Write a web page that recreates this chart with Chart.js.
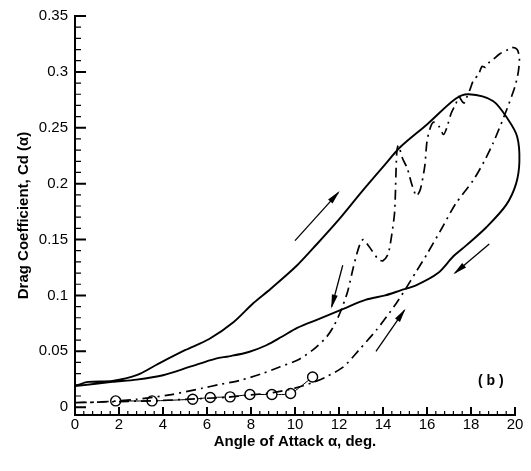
<!DOCTYPE html>
<html lang="en">
<head>
  <meta charset="UTF-8" />
  <title>Drag Coefficient vs Angle of Attack</title>
  <script src="https://cdn.jsdelivr.net/npm/chart.js"></script>
  <style>
    html, body { margin: 0; padding: 0; background: #fff; }
    #wrap { width: 531px; height: 471px; }
  </style>
</head>
<body>
  <div id="wrap"><canvas id="cdChart" width="531" height="471"></canvas></div>

  <script>
    // computed loop, solid line (up on the upper branch, back on the lower one)
    const solidX = [0, 0.6, 1.7, 2.8, 3.8, 5.0, 6.1, 7.2, 8.1, 8.9, 10.1, 11.0, 12.0, 13.0, 14.0, 14.8, 16.0, 17.3, 17.9, 19.0, 19.7, 20.1, 20.2,
                    20.05, 19.6, 18.7, 17.8, 17.2, 16.5, 15.5, 14.8, 14.1, 13.2, 12.2, 11.1, 10.1, 9.4, 8.7, 7.9, 7.0, 6.4, 5.2, 4.0, 2.8, 1.7, 0];
    const solidY = [0.019, 0.0226, 0.0235, 0.0286, 0.039, 0.051, 0.061, 0.076, 0.093, 0.106, 0.127, 0.146, 0.168, 0.192, 0.215, 0.233, 0.253, 0.276, 0.280, 0.274, 0.257, 0.242, 0.22,
                    0.2, 0.181, 0.161, 0.145, 0.135, 0.12, 0.109, 0.1045, 0.100, 0.096, 0.088, 0.079, 0.071, 0.063, 0.0554, 0.0494, 0.0455, 0.0435, 0.036, 0.0286, 0.0247, 0.0226, 0.0188];

    // second computed loop, dash-dot (upstroke low and right, downstroke with the wiggles)
    const dashX = [0, 1, 2, 3, 4, 5, 6, 7, 8, 9, 10, 10.8, 11.4, 12.2, 12.9, 13.7, 14.5, 15.0, 15.5, 16.0, 16.7, 17.3, 18.1, 18.6, 19.0, 19.6, 20.0, 20.15, 20.2, 20.1, 19.85,
                   19.6, 19.3, 19.0, 18.8, 18.65, 18.5, 18.35, 18.1, 17.95, 17.8, 17.68, 17.55, 17.45, 17.3, 17.1, 16.9, 16.75, 16.55, 16.3, 16.15, 16.0, 15.9, 15.7, 15.52,
                   15.3, 15.1, 14.9, 14.7, 14.62, 14.53, 14.38, 14.23, 14.0, 13.8, 13.5, 13.1, 12.9, 12.65, 12.4, 12.1, 11.75, 11.4, 10.8, 10.1, 9.3, 8.5, 7.5, 6.5, 5.8, 4.3, 2.8, 1.2, 0];
    const dashY = [0.004, 0.0045, 0.005, 0.0055, 0.006, 0.007, 0.008, 0.009, 0.011, 0.013, 0.017, 0.022, 0.027, 0.036, 0.051, 0.069, 0.09, 0.105, 0.121, 0.137, 0.161, 0.182, 0.203, 0.22, 0.236, 0.265, 0.287, 0.30, 0.312, 0.32, 0.322,
                   0.319, 0.316, 0.311, 0.308, 0.304, 0.305, 0.298, 0.292, 0.284, 0.277, 0.272, 0.275, 0.278, 0.271, 0.263, 0.25, 0.244, 0.251, 0.255, 0.25, 0.238, 0.216, 0.195, 0.189,
                   0.2, 0.214, 0.222, 0.234, 0.226, 0.175, 0.152, 0.137, 0.131, 0.132, 0.14, 0.15, 0.143, 0.125, 0.104, 0.087, 0.072, 0.062, 0.051, 0.042, 0.036, 0.030, 0.024, 0.02, 0.017, 0.011, 0.007, 0.0047, 0.004];

    // experiment (open circles)
    const expX = [1.85, 3.5, 5.35, 6.15, 7.05, 7.95, 8.95, 9.8, 10.8];
    const expY = [0.0056, 0.0056, 0.0071, 0.0087, 0.0092, 0.0113, 0.0113, 0.0122, 0.027];

    // direction arrows: tail (x0,y0) -> head (x1,y1)
    const arrowX0 = [10.0, 18.83, 12.17, 13.68];
    const arrowY0 = [0.149, 0.146, 0.127, 0.050];
    const arrowX1 = [11.97, 17.27, 11.67, 14.97];
    const arrowY1 = [0.192, 0.120, 0.090, 0.0866];

    const xTicks = [0, 2, 4, 6, 8, 10, 12, 14, 16, 18, 20];
    const yTicks = [0, 0.05, 0.1, 0.15, 0.2, 0.25, 0.3, 0.35];

    const FONT = "'Liberation Sans', Arial, Helvetica, sans-serif";

    const toPts = (xs, ys) => xs.map((x, i) => ({ x: x, y: ys[i] }));

    // tick marks drawn inside the axes, plus arrows and the panel tag
    const extras = {
      id: 'extras',
      afterDraw(chart) {
        const ctx = chart.ctx;
        const xs = chart.scales.x, ys = chart.scales.y;
        const left = chart.chartArea.left, bottom = chart.chartArea.bottom;
        ctx.save();
        ctx.strokeStyle = '#000';
        ctx.fillStyle = '#000';

        // minor ticks
        ctx.lineWidth = 1.2;
        ctx.beginPath();
        for (let i = 0; i <= 35; i++) {
          if (i % 5 === 0) continue;
          const py = ys.getPixelForValue(i / 100);
          ctx.moveTo(left, py); ctx.lineTo(left + 6, py);
        }
        for (let i = 0; i <= 50; i++) {
          if (i % 5 === 0) continue;
          const px = xs.getPixelForValue(i * 0.4);
          ctx.moveTo(px, bottom); ctx.lineTo(px, bottom - 4);
        }
        ctx.stroke();

        // major ticks
        ctx.lineWidth = 2;
        ctx.beginPath();
        yTicks.forEach(v => {
          const py = ys.getPixelForValue(v);
          ctx.moveTo(left, py); ctx.lineTo(left + 11, py);
        });
        xTicks.forEach(v => {
          const px = xs.getPixelForValue(v);
          ctx.moveTo(px, bottom); ctx.lineTo(px, bottom - 8);
        });
        ctx.stroke();

        // arrows
        ctx.lineWidth = 1.3;
        for (let i = 0; i < arrowX0.length; i++) {
          const x0 = xs.getPixelForValue(arrowX0[i]), y0 = ys.getPixelForValue(arrowY0[i]);
          const x1 = xs.getPixelForValue(arrowX1[i]), y1 = ys.getPixelForValue(arrowY1[i]);
          const a = Math.atan2(y1 - y0, x1 - x0);
          ctx.beginPath();
          ctx.moveTo(x0, y0); ctx.lineTo(x1, y1);
          ctx.stroke();
          const hx = x1 - 4 * Math.cos(a), hy = y1 - 4 * Math.sin(a);
          ctx.beginPath();
          ctx.moveTo(hx + 6 * Math.cos(a), hy + 6 * Math.sin(a));
          ctx.lineTo(hx - 8 * Math.cos(a) + 3 * Math.sin(a), hy - 8 * Math.sin(a) - 3 * Math.cos(a));
          ctx.lineTo(hx - 8 * Math.cos(a) - 3 * Math.sin(a), hy - 8 * Math.sin(a) + 3 * Math.cos(a));
          ctx.closePath();
          ctx.fill();
        }

        // panel tag
        ctx.font = 'bold 14px ' + FONT;
        ctx.textAlign = 'center';
        ctx.textBaseline = 'middle';
        ctx.fillText('( b )', xs.getPixelForValue(18.9), ys.getPixelForValue(0.0237));
        ctx.restore();
      }
    };

    new Chart(document.getElementById('cdChart'), {
      type: 'scatter',
      data: {
        datasets: [
          {
            label: 'solid',
            data: toPts(solidX, solidY),
            showLine: true,
            borderColor: '#000',
            borderWidth: 1.9,
            pointRadius: 0,
            tension: 0.3,
            clip: false
          },
          {
            label: 'dash-dot',
            data: toPts(dashX, dashY),
            showLine: true,
            borderColor: '#000',
            borderWidth: 1.7,
            borderDash: [10, 5, 2, 5],
            pointRadius: 0,
            tension: 0.25,
            clip: false
          },
          {
            label: 'experiment',
            data: toPts(expX, expY),
            showLine: true,
            borderColor: '#000',
            borderWidth: 1,
            pointRadius: 5,
            pointBorderWidth: 1.4,
            pointBackgroundColor: '#fff',
            pointBorderColor: '#000',
            tension: 0.2
          }
        ]
      },
      options: {
        responsive: false,
        animation: false,
        devicePixelRatio: 1,
        layout: { padding: { left: 0, top: 15, right: 16, bottom: 0 } },
        plugins: {
          legend: { display: false },
          tooltip: { enabled: false }
        },
        scales: {
          x: {
            type: 'linear',
            min: 0,
            max: 20,
            afterFit(s) { s.height = 56; },
            afterBuildTicks(s) { s.ticks = xTicks.map(v => ({ value: v })); },
            border: { display: true, color: '#000', width: 2 },
            grid: { display: false, drawTicks: false },
            ticks: { padding: 1, color: '#000', maxRotation: 0, font: { family: FONT, size: 15 } },
            title: {
              display: true,
              text: 'Angle of Attack α, deg.',
              color: '#000',
              font: { family: FONT, size: 15, weight: 'bold' },
              padding: { top: 0, bottom: 20 }
            }
          },
          y: {
            type: 'linear',
            min: -0.007,
            max: 0.35,
            afterFit(s) { s.width = 75; },
            afterBuildTicks(s) { s.ticks = yTicks.map(v => ({ value: v })); },
            border: { display: true, color: '#000', width: 2 },
            grid: { display: false, drawTicks: false },
            ticks: { padding: 7, color: '#000', font: { family: FONT, size: 15 }, callback: v => String(v) },
            title: {
              display: true,
              text: 'Drag Coefficient, Cd (α)',
              color: '#000',
              font: { family: FONT, size: 15, weight: 'bold' },
              padding: { top: 15, bottom: 0 }
            }
          }
        }
      },
      plugins: [extras]
    });
  </script>
</body>
</html>
